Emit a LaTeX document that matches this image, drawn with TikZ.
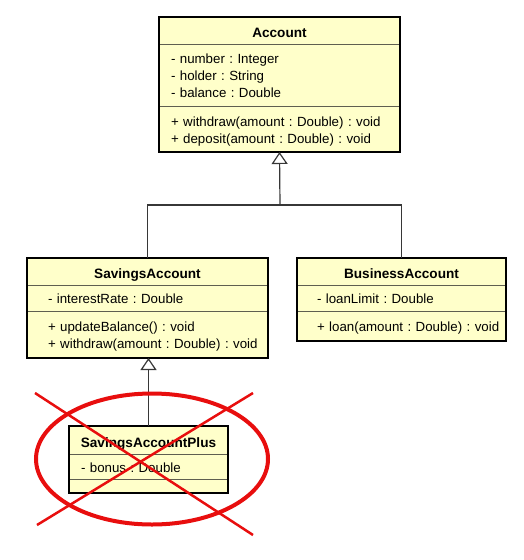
\documentclass[tikz,border=0pt]{standalone}
\usepackage{fontspec}
\setmainfont{Liberation Sans}
\usepackage{xcolor}
\usepackage{tikz}
\usetikzlibrary{positioning}
\usetikzlibrary{arrows.meta}
\definecolor{classfill}{RGB}{255,255,202}
\definecolor{sepline}{RGB}{95,95,80}
\definecolor{linkgray}{RGB}{55,55,55}
\definecolor{crossred}{RGB}{232,14,14}
\frenchspacing
\def\members#1#2{\raisebox{-2.5pt}[\height][\depth]{\begin{tabular}{@{\hspace{#1}}l@{}}#2\end{tabular}}}

\begin{document}
\begin{tikzpicture}[x=1pt,y=-1pt,
		node distance=0pt,
		ctitle/.style={draw=sepline,fill=classfill,outer sep=0pt,inner sep=0pt,
			text height=14.5pt,text depth=0pt,
			font=\fontsize{13.6}{17}\selectfont\bfseries},
		comp/.style={draw=sepline,fill=classfill,outer sep=0pt,inner sep=0pt,
			text width=#1,align=left,font=\fontsize{13.3}{17}\selectfont},
		outline/.style={draw=black,line width=2.5pt},
		link/.style={draw=linkgray,line width=1.2pt},
		gen/.style={link,-{Triangle[open,length=12pt,width=16pt,line width=1.2pt]}},
		redring/.style={draw=crossred,line width=4pt},
		redcross/.style={draw=crossred,line width=2.5pt}]
	\useasboundingbox (0,0) rectangle (524,560);

	\node[ctitle,minimum width=241pt,minimum height=27pt,anchor=north west] (acct) at (159,17) {Account};
	\node[comp=241pt,minimum height=62pt,below=of acct] (acca) {\members{12pt}{- number : Integer\\- holder : String\\- balance : Double}};
	\node[comp=241pt,minimum height=46pt,below=of acca] (accm) {\members{12pt}{+ withdraw(amount : Double) : void\\+ deposit(amount : Double) : void}};
	\draw[outline] (acct.north west) rectangle (accm.south east);

	\node[ctitle,minimum width=241pt,minimum height=27pt,anchor=north west] (savt) at (27,258) {SavingsAccount};
	\node[comp=241pt,minimum height=26pt,below=of savt] (sava) {\members{21pt}{- interestRate : Double}};
	\node[comp=241pt,minimum height=47pt,below=of sava] (savm) {\members{21pt}{+ updateBalance() : void\\+ withdraw(amount : Double) : void}};
	\draw[outline] (savt.north west) rectangle (savm.south east);

	\node[ctitle,minimum width=209pt,minimum height=27pt,anchor=north west] (bust) at (297,258) {BusinessAccount};
	\node[comp=209pt,minimum height=26pt,below=of bust] (busa) {\members{20pt}{- loanLimit : Double}};
	\node[comp=209pt,minimum height=30pt,below=of busa] (busm) {\members{20pt}{+ loan(amount : Double) : void}};
	\draw[outline] (bust.north west) rectangle (busm.south east);

	\node[ctitle,minimum width=159pt,minimum height=28pt,anchor=north west] (plust) at (69,426) {SavingsAccountPlus};
	\node[comp=159pt,minimum height=25pt,below=of plust] (plusa) {\members{12pt}{- bonus : Double}};
	\node[comp=159pt,minimum height=14pt,below=of plusa] (plusm) {};
	\draw[outline] (plust.north west) rectangle (plusm.south east);

	\coordinate (fork) at (280,205);
	\draw[link] (savt.north) |- (fork) -| (bust.north);
	\draw[gen] (fork) -- (accm.south);
	\draw[gen] (plust.north) -- (plust.north |- savm.south);

	\draw[redring] (152,459) ellipse [x radius=116,y radius=65.5];
	\draw[redcross] (35,393) -- (253,535);
	\draw[redcross] (37,525) -- (253,393);
\end{tikzpicture}
\end{document}
